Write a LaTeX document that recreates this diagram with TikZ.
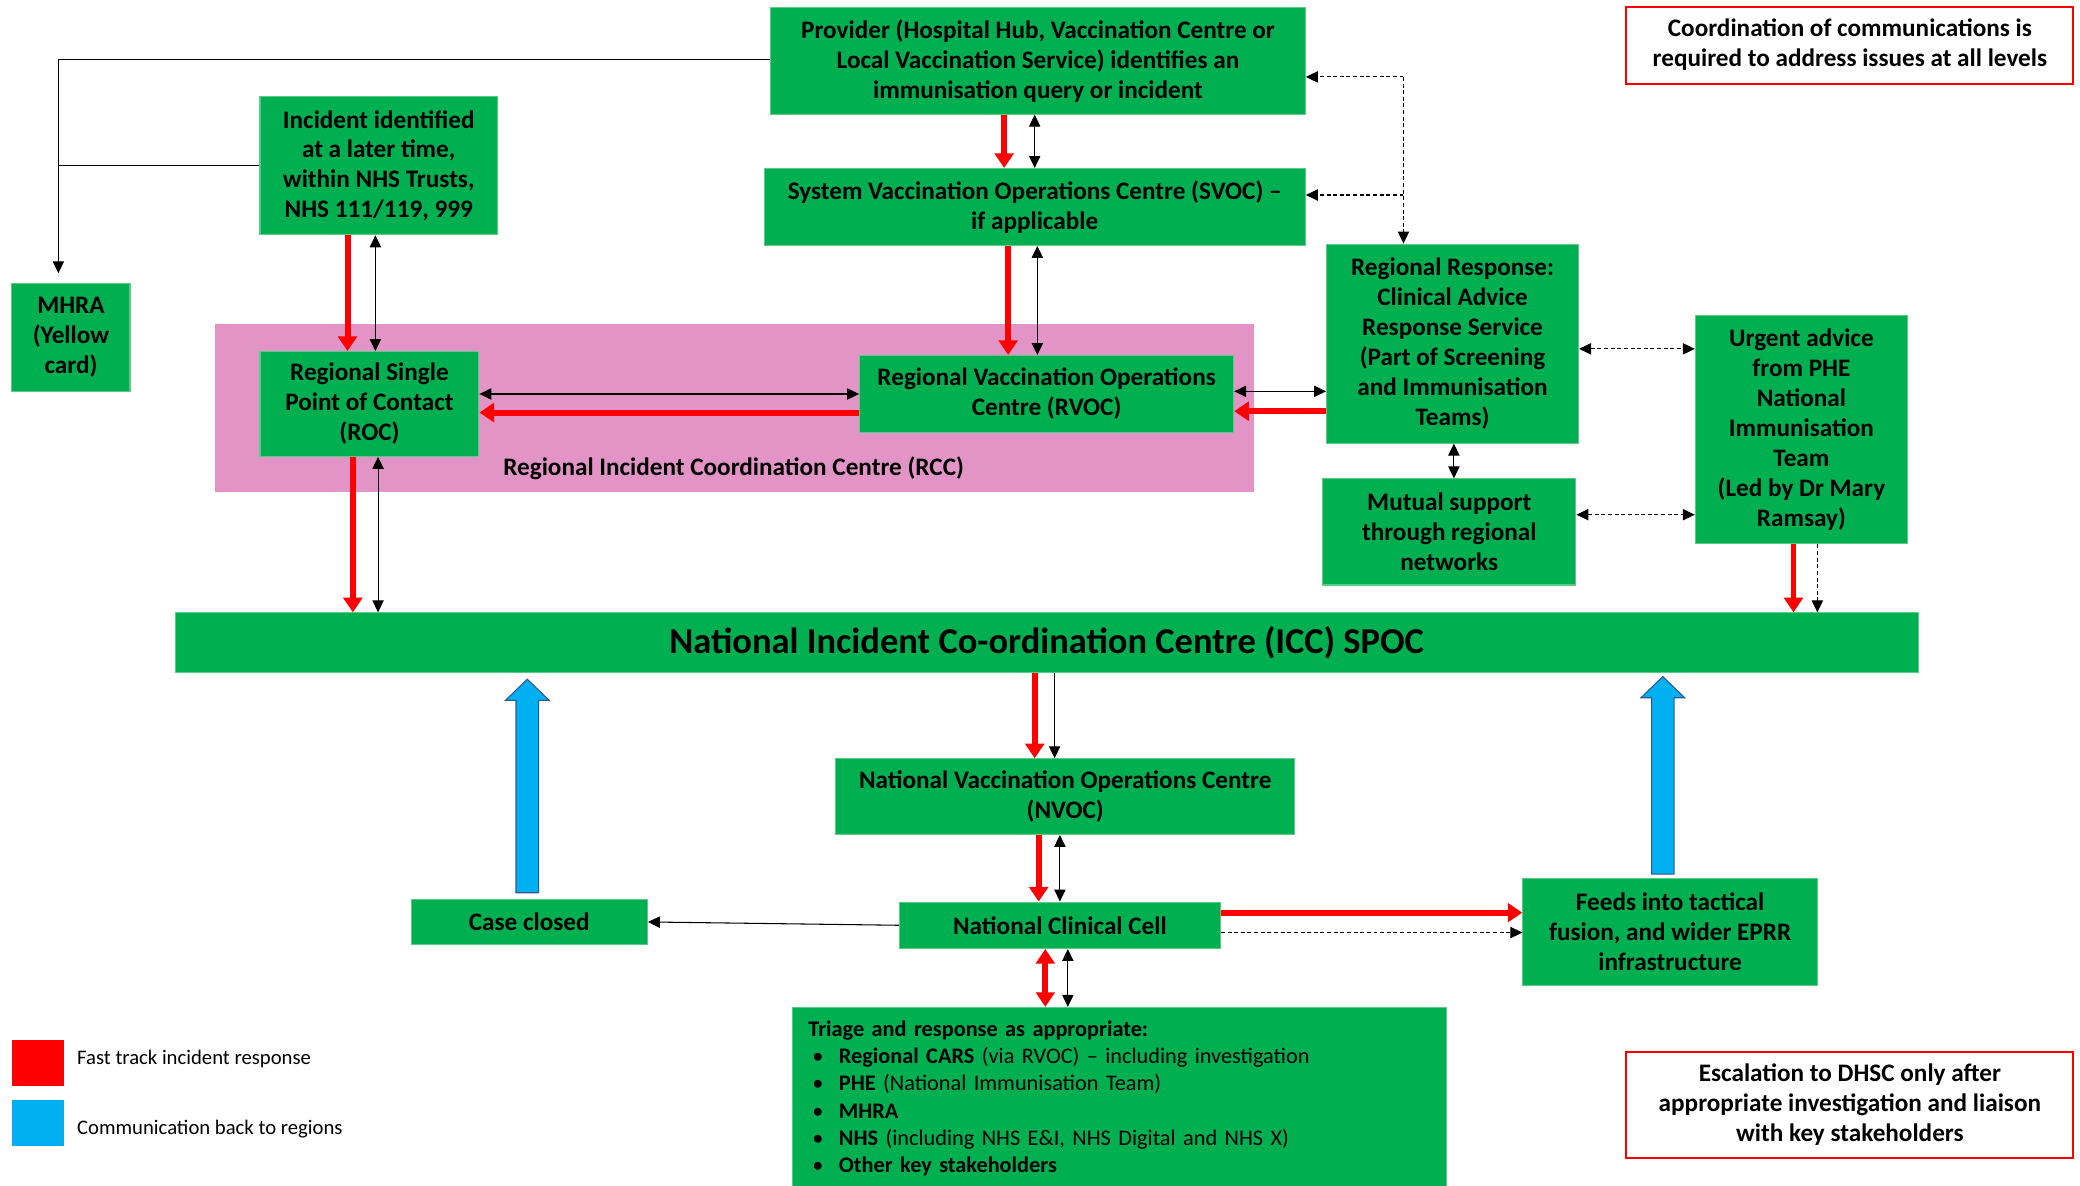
\documentclass[tikz,border=0pt]{standalone}
\usepackage{fontspec}
\setmainfont{Carlito}
\usetikzlibrary{arrows.meta,calc}
\definecolor{gfill}{HTML}{00B050}
\definecolor{gline}{HTML}{5CCB86}
\definecolor{pinkc}{HTML}{E394C7}
\definecolor{bluec}{HTML}{00B0F0}
\definecolor{blueline}{HTML}{2F5597}
\definecolor{redc}{HTML}{FF0000}
\newcommand\boxfont{\fontsize{19}{22.6}\selectfont\bfseries}
\newcommand\iccfont{\fontsize{27.5}{30}\selectfont\bfseries}
\newcommand\trifont{\fontsize{16.8}{20.6}\selectfont}
\newcommand\legfont{\fontsize{15.6}{18}\selectfont}
\begin{document}
\begin{tikzpicture}[x=1pt,y=-1pt,
  gbox/.style={fill=gfill, draw=gline, line width=0.8pt, align=center, font=\boxfont, inner sep=1pt, text=black},
  rbox/.style={fill=white, draw=redc, line width=1.6pt, align=center, font=\boxfont, inner sep=1pt},
  redarr/.style={draw=redc, line width=4.5pt, -{Triangle[length=11pt,width=14pt]}},
  reddbl/.style={draw=redc, line width=4.5pt, {Triangle[length=11pt,width=14pt]}-{Triangle[length=11pt,width=14pt]}},
  blkarr/.style={draw=black, line width=0.8pt, -{Triangle[length=9pt,width=8.5pt]}},
  blkdbl/.style={draw=black, line width=0.8pt, {Triangle[length=9pt,width=8.5pt]}-{Triangle[length=9pt,width=8.5pt]}},
  dsharr/.style={draw=black, line width=0.8pt, dash pattern=on 3pt off 2pt, -{Triangle[length=9pt,width=8.5pt]}},
  dshdbl/.style={draw=black, line width=0.8pt, dash pattern=on 3pt off 2pt, {Triangle[length=9pt,width=8.5pt]}-{Triangle[length=9pt,width=8.5pt]}},
  plain/.style={draw=black, line width=0.8pt},
  bluearrow/.style={fill=bluec, draw=blueline, line width=0.8pt}
]
\useasboundingbox (0,0) rectangle (1568,894);
\fill[white] (0,0) rectangle (1568,894);

% pink regional area
\node[fill=pinkc, minimum width=783pt, minimum height=127pt, inner sep=0pt] (rcc) at (553.5,307.5) {};
\node[font=\boxfont, inner sep=0pt] (rcclabel) at (553,353) {Regional Incident Coordination Centre (RCC)};

% boxes
\node[gbox, minimum width=403pt, minimum height=80pt] (prov) at (782.5,46) {Provider (Hospital Hub, Vaccination Centre or\\Local Vaccination Service) identifies an\\immunisation query or incident};
\node[rbox, minimum width=337pt, minimum height=58pt] (coord) at (1394.5,34) {Coordination of communications is\\required to address issues at all levels};
\node[gbox, minimum width=179pt, minimum height=104pt] (inc) at (285.5,125) {Incident identified\\at a later time,\\within NHS Trusts,\\NHS 111/119, 999};
\node[gbox, minimum width=89pt, minimum height=81pt] (mhra) at (53.5,254.5) {MHRA\\(Yellow\\card)};
\node[gbox, minimum width=408pt, minimum height=58pt] (svoc) at (780,156) {System Vaccination Operations Centre (SVOC) –\\if applicable};
\node[gbox, minimum width=190pt, minimum height=150pt] (cars) at (1095,259) {Regional Response:\\Clinical Advice\\Response Service\\(Part of Screening\\and Immunisation\\Teams)};
\node[gbox, minimum width=160pt, minimum height=172pt] (urg) at (1358,324) {Urgent advice\\from PHE\\National\\Immunisation\\Team\\(Led by Dr Mary\\Ramsay)};
\node[gbox, minimum width=191pt, minimum height=80pt] (mut) at (1092.5,401) {Mutual support\\through regional\\networks};
\node[gbox, minimum width=165pt, minimum height=79pt] (roc) at (278.5,304.5) {Regional Single\\Point of Contact\\(ROC)};
\node[gbox, minimum width=282pt, minimum height=58pt] (rvoc) at (789,297) {Regional Vaccination Operations\\Centre (RVOC)};
\node[gbox, font=\iccfont, minimum width=1314pt, minimum height=45pt] (icc) at (789,484.5) {National Incident Co-ordination Centre (ICC) SPOC};
\node[gbox, minimum width=346pt, minimum height=57pt] (nvoc) at (803,600.5) {National Vaccination Operations Centre\\(NVOC)};
\node[gbox, minimum width=178pt, minimum height=34pt] (cc) at (399,695) {Case closed};
\node[gbox, minimum width=242pt, minimum height=35pt] (ncc) at (799,697.5) {National Clinical Cell};
\node[gbox, minimum width=222pt, minimum height=81pt] (feeds) at (1259,702.5) {Feeds into tactical\\fusion, and wider EPRR\\infrastructure};
\node[gbox, anchor=north west, text width=469pt, align=left, font=\trifont, inner xsep=12pt, inner ysep=10pt] (tri) at (597,759) {\textbf{Triage and response as appropriate:}\\
\makebox[23pt][l]{\hspace{3pt}•}\textbf{Regional CARS} (via RVOC) – including investigation\\
\makebox[23pt][l]{\hspace{3pt}•}\textbf{PHE} (National Immunisation Team)\\
\makebox[23pt][l]{\hspace{3pt}•}\textbf{MHRA}\\
\makebox[23pt][l]{\hspace{3pt}•}\textbf{NHS} (including NHS E\&I, NHS Digital and NHS X)\\
\makebox[23pt][l]{\hspace{3pt}•}\textbf{Other key stakeholders}};
\node[rbox, minimum width=337pt, minimum height=80pt] (esc) at (1394.5,833) {Escalation to DHSC only after\\appropriate investigation and liaison\\with key stakeholders};

% legend
\node[fill=redc, minimum width=39pt, minimum height=35pt, inner sep=0pt] (legred) at (28.5,801.5) {};
\node[fill=bluec, minimum width=39pt, minimum height=35pt, inner sep=0pt] (legblue) at (28.5,846.5) {};
\node[font=\legfont, anchor=west, inner sep=0pt] (legredt) at (58,798) {Fast track incident response};
\node[font=\legfont, anchor=west, inner sep=0pt] (legbluet) at (58,851) {Communication back to regions};

% MHRA connectors
\coordinate (mhtop) at (44,45);
\coordinate (mhin) at (44,125);
\coordinate (mhend) at (44,206);
\draw[plain] (prov.west |- mhtop) -- (mhtop) -- (mhin);
\draw[blkarr] (mhin) -- (mhend);
\draw[plain] (inc.west) -- (mhin);

% provider -> svoc
\draw[redarr] (757,0 |- prov.south) -- (757,0 |- svoc.north);
\draw[blkdbl] (780,0 |- prov.south) -- (780,0 |- svoc.north);
% svoc -> rvoc
\draw[redarr] (760,0 |- svoc.south) -- (760,0 |- rvoc.north);
\draw[blkdbl] (782,0 |- svoc.south) -- (782,0 |- rvoc.north);
% incident -> roc
\draw[redarr] (262,0 |- inc.south) -- (262,0 |- roc.north);
\draw[blkdbl] (283,0 |- inc.south) -- (283,0 |- roc.north);
% rvoc <-> roc
\draw[blkdbl] (roc.east |- 0,297) -- (rvoc.west |- 0,297);
\draw[redarr] (rvoc.west |- 0,311) -- (roc.east |- 0,311);
% cars -> rvoc
\draw[blkdbl] (rvoc.east |- 0,295) -- (cars.west |- 0,295);
\draw[redarr] (cars.west |- 0,310) -- (rvoc.east |- 0,310);
% roc -> icc
\draw[redarr] (266,0 |- roc.south) -- (266,0 |- icc.north);
\draw[blkdbl] (285,0 |- roc.south) -- (285,0 |- icc.north);
% dashed links from cars
\coordinate (dtop) at (1058,58);
\coordinate (dmid) at (1058,147);
\draw[dsharr] (dtop) -- (prov.east |- dtop);
\draw[dsharr] (dmid) -- (svoc.east |- dmid);
\draw[dsharr] (dtop) -- (1058,0 |- cars.north);
\draw[dshdbl] (cars.east |- 0,263) -- (urg.west |- 0,263);
\draw[dshdbl] (mut.east |- 0,388) -- (urg.west |- 0,388);
\draw[blkdbl] (1096,0 |- cars.south) -- (1096,0 |- mut.north);
% urgent -> icc
\draw[redarr] (1352,0 |- urg.south) -- (1352,0 |- icc.north);
\draw[dsharr] (1370,0 |- urg.south) -- (1370,0 |- icc.north);
% icc -> nvoc
\draw[redarr] (780,0 |- icc.south) -- (780,0 |- nvoc.north);
\draw[blkarr] (795,0 |- icc.south) -- (795,0 |- nvoc.north);
% nvoc -> ncc
\draw[redarr] (783,0 |- nvoc.south) -- (783,0 |- ncc.north);
\draw[blkdbl] (799,0 |- nvoc.south) -- (799,0 |- ncc.north);
% ncc <-> triage
\draw[reddbl] (788,0 |- ncc.south) -- (788,0 |- tri.north);
\draw[blkdbl] (805,0 |- ncc.south) -- (805,0 |- tri.north);
% ncc -> case closed
\draw[blkarr] (ncc.west) -- (cc.east);
% ncc -> feeds
\draw[redarr] (ncc.east |- 0,688) -- (feeds.west |- 0,688);
\draw[dsharr] (ncc.east |- 0,703) -- (feeds.west |- 0,703);

% blue arrows
\filldraw[bluearrow] (389,673) -- (389,528) -- (381,528) -- (397.5,512) -- (414,528) -- (406,528) -- (406,673) -- cycle;
\filldraw[bluearrow] (1245,659) -- (1245,526) -- (1237,526) -- (1253.5,510) -- (1270,526) -- (1262,526) -- (1262,659) -- cycle;
\end{tikzpicture}
\end{document}
